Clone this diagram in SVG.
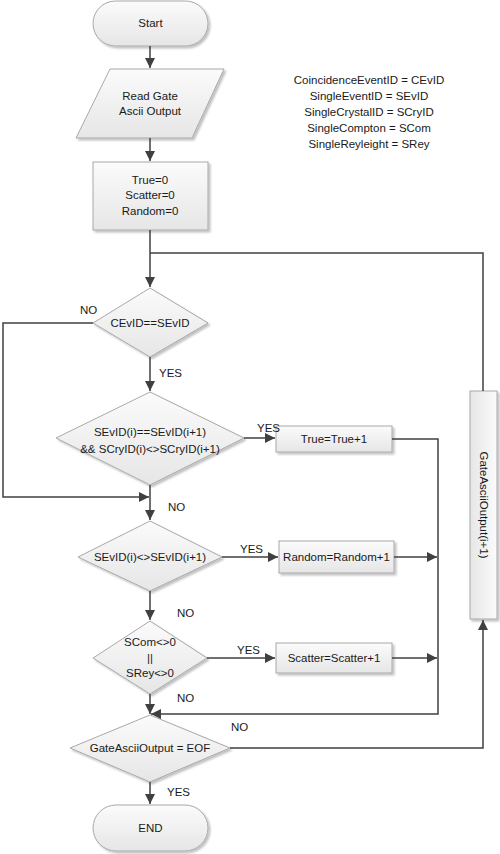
<svg xmlns="http://www.w3.org/2000/svg" width="500" height="854" viewBox="0 0 500 854">
<defs>
<linearGradient id="g" x1="0" y1="0" x2="0" y2="1">
<stop offset="0" stop-color="#fbfbfb"/>
<stop offset="1" stop-color="#e6e6e6"/>
</linearGradient>
<linearGradient id="gv" x1="0" y1="0" x2="1" y2="0">
<stop offset="0" stop-color="#e6e6e6"/>
<stop offset="1" stop-color="#fbfbfb"/>
</linearGradient>
<filter id="sh" x="-10%" y="-10%" width="130%" height="130%">
<feGaussianBlur in="SourceAlpha" stdDeviation="1"/>
<feOffset dx="2" dy="2"/>
<feComponentTransfer><feFuncA type="linear" slope="0.25"/></feComponentTransfer>
<feMerge><feMergeNode/><feMergeNode in="SourceGraphic"/></feMerge>
</filter>
<marker id="ar" viewBox="0 0 10 10" refX="10" refY="5" markerWidth="10" markerHeight="10" markerUnits="userSpaceOnUse" orient="auto">
<path d="M0,0 L10,5 L0,10 z" fill="#404040"/>
</marker>
</defs>
<style>
.s{fill:url(#g);stroke:#a8a8a8;stroke-width:1;filter:url(#sh)}
.t{font-family:"Liberation Sans",Arial,sans-serif;font-size:11.5px;fill:#1a1a1a;text-anchor:middle}
.c{fill:none;stroke:#404040;stroke-width:1.5}
.l{font-family:"Liberation Sans",Arial,sans-serif;font-size:11.5px;fill:#1a1a1a}
</style>
<g id="start">
<rect class="s" x="93" y="1" width="115" height="45" rx="22.5"/>
<text class="t" x="150.5" y="27">Start</text>
</g>
<g id="read">
<polygon class="s" points="110,69 224,69 192,138 76,138"/>
<text class="t" x="150" y="100">Read Gate</text>
<text class="t" x="150" y="115">Ascii Output</text>
</g>
<g id="init">
<rect class="s" x="93" y="162" width="115" height="68"/>
<text class="t" x="150" y="184">True=0</text>
<text class="t" x="150" y="199">Scatter=0</text>
<text class="t" x="150" y="215">Random=0</text>
</g>
<g id="legend">
<text class="t" x="369" y="84">CoincidenceEventID = CEvID</text>
<text class="t" x="369" y="100">SingleEventID = SEvID</text>
<text class="t" x="369" y="116">SingleCrystalID = SCryID</text>
<text class="t" x="369" y="132">SingleCompton = SCom</text>
<text class="t" x="369" y="148">SingleReyleight = SRey</text>
</g>
<g id="d1">
<polygon class="s" points="150,288 208,323 150,357 93,323"/>
<text class="t" x="150" y="327">CEvID==SEvID</text>
</g>
<g id="d2">
<polygon class="s" points="150,392 244,438 150,485 56,438"/>
<text class="t" x="150" y="436">SEvID(i)==SEvID(i+1)</text>
<text class="t" x="150" y="453">&amp;&amp; SCryID(i)&lt;&gt;SCryID(i+1)</text>
</g>
<g id="trueInc">
<rect class="s" x="276" y="426" width="116" height="26"/>
<text class="t" x="334" y="443">True=True+1</text>
</g>
<g id="d3">
<polygon class="s" points="150,521 222,557 150,591 78,557"/>
<text class="t" x="150" y="561">SEvID(i)&lt;&gt;SEvID(i+1)</text>
</g>
<g id="randomInc">
<rect class="s" x="279" y="541" width="115" height="32"/>
<text class="t" x="336.5" y="561">Random=Random+1</text>
</g>
<g id="d4">
<polygon class="s" points="150,621 207,658 150,694 93,658"/>
<text class="t" x="150" y="646">SCom&lt;&gt;0</text>
<text class="t" x="150" y="662">||</text>
<text class="t" x="150" y="677">SRey&lt;&gt;0</text>
</g>
<g id="scatterInc">
<rect class="s" x="276" y="643" width="116" height="30"/>
<text class="t" x="334" y="662">Scatter=Scatter+1</text>
</g>
<g id="d5">
<polygon class="s" points="150,715 230,748 150,782 70,748"/>
<text class="t" x="150" y="752">GateAsciiOutput = EOF</text>
</g>
<g id="next">
<rect x="470" y="391" width="27" height="228" fill="url(#gv)" stroke="#a8a8a8" filter="url(#sh)"/>
<text class="t" transform="translate(483.5,505) rotate(90)" x="0" y="4">GateAsciiOutput(i+1)</text>
</g>
<g id="end">
<rect class="s" x="93" y="805" width="115" height="46" rx="23"/>
<text class="t" x="150.5" y="832">END</text>
</g>
<g id="connectors">
<line class="c" x1="150" y1="46" x2="150" y2="68" marker-end="url(#ar)"/>
<line class="c" x1="150" y1="138" x2="150" y2="161" marker-end="url(#ar)"/>
<line class="c" x1="150" y1="230" x2="150" y2="287" marker-end="url(#ar)"/>
<polyline class="c" points="483,391 483,253 150,253"/>
<line class="c" x1="150" y1="357" x2="150" y2="391" marker-end="url(#ar)"/>
<polyline class="c" points="93,323 3,323 3,497 149,497" marker-end="url(#ar)"/>
<line class="c" x1="244" y1="438" x2="275" y2="438" marker-end="url(#ar)"/>
<polyline class="c" points="392,439 438,439 438,714 151,714" marker-end="url(#ar)"/>
<line class="c" x1="150" y1="485" x2="150" y2="520" marker-end="url(#ar)"/>
<line class="c" x1="222" y1="557" x2="278" y2="557" marker-end="url(#ar)"/>
<line class="c" x1="394" y1="557" x2="437" y2="557" marker-end="url(#ar)"/>
<line class="c" x1="150" y1="591" x2="150" y2="620" marker-end="url(#ar)"/>
<line class="c" x1="207" y1="658" x2="275" y2="658" marker-end="url(#ar)"/>
<line class="c" x1="392" y1="658" x2="437" y2="658" marker-end="url(#ar)"/>
<line class="c" x1="150" y1="694" x2="150" y2="714" marker-end="url(#ar)"/>
<polyline class="c" points="230,748 483,748 483,620" marker-end="url(#ar)"/>
<line class="c" x1="150" y1="782" x2="150" y2="804" marker-end="url(#ar)"/>
<text class="l" x="80" y="314">NO</text>
<text class="l" x="159" y="377">YES</text>
<text class="l" x="257" y="432">YES</text>
<text class="l" x="168" y="511">NO</text>
<text class="l" x="240" y="553">YES</text>
<text class="l" x="177" y="617">NO</text>
<text class="l" x="237" y="654">YES</text>
<text class="l" x="177" y="702">NO</text>
<text class="l" x="231" y="731">NO</text>
<text class="l" x="167" y="796">YES</text>
</g>
</svg>
